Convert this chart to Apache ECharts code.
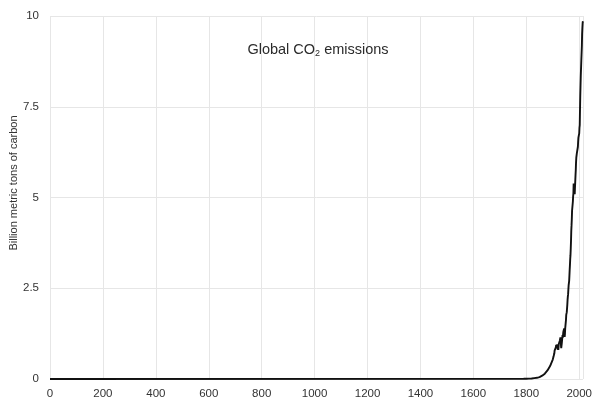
<!DOCTYPE html>
<html>
<head>
<meta charset="utf-8">
<script src="https://cdn.jsdelivr.net/npm/echarts@6/dist/echarts.min.js"></script>
<style>
  html, body { margin: 0; padding: 0; background: #fff; }
  #chart { width: 595px; height: 403px; }
</style>
</head>
<body>
<div id="chart"></div>
<script>
// global fossil-fuel carbon emissions, billion metric tons of carbon
const years = [
  0, 1751, 1760, 1770, 1780, 1790, 1800, 1810, 1820, 1830, 1840, 1850, 1860, 1870, 1880, 1890,
  1900, 1901, 1902, 1903, 1904, 1905, 1906, 1907, 1908, 1909, 1910, 1911, 1912, 1913, 1914,
  1915, 1916, 1917, 1918, 1919, 1920, 1921, 1922, 1923, 1924, 1925, 1926, 1927, 1928, 1929,
  1930, 1931, 1932, 1933, 1934, 1935, 1936, 1937, 1938, 1939, 1940, 1941, 1942, 1943, 1944,
  1945, 1946, 1947, 1948, 1949, 1950, 1951, 1952, 1953, 1954, 1955, 1956, 1957, 1958, 1959,
  1960, 1961, 1962, 1963, 1964, 1965, 1966, 1967, 1968, 1969, 1970, 1971, 1972, 1973, 1974,
  1975, 1976, 1977, 1978, 1979, 1980, 1981, 1982, 1983, 1984, 1985, 1986, 1987, 1988, 1989,
  1990, 1991, 1992, 1993, 1994, 1995, 1996, 1997, 1998, 1999, 2000, 2001, 2002, 2003, 2004,
  2005, 2006, 2007, 2008, 2009, 2010, 2011, 2012, 2013, 2014
];
const emissions = [
  0, 0.003, 0.003, 0.003, 0.004, 0.005, 0.008, 0.010, 0.014, 0.024, 0.033, 0.054, 0.091, 0.147, 0.236, 0.356,
  0.534, 0.552, 0.566, 0.617, 0.624, 0.663, 0.707, 0.784, 0.750, 0.785, 0.819, 0.836, 0.879, 0.943, 0.850,
  0.838, 0.901, 0.955, 0.936, 0.806, 0.932, 0.803, 0.845, 0.970, 0.963, 0.975, 0.983, 1.062, 1.065, 1.145,
  1.053, 0.940, 0.847, 0.893, 0.973, 1.027, 1.130, 1.209, 1.142, 1.192, 1.299, 1.334, 1.342, 1.391, 1.383,
  1.160, 1.238, 1.392, 1.469, 1.419, 1.630, 1.768, 1.796, 1.841, 1.865, 2.043, 2.178, 2.270, 2.330, 2.462,
  2.577, 2.594, 2.700, 2.848, 3.008, 3.145, 3.305, 3.411, 3.588, 3.800, 4.076, 4.231, 4.399, 4.635, 4.644,
  4.615, 4.883, 5.029, 5.105, 5.387, 5.332, 5.168, 5.113, 5.094, 5.280, 5.439, 5.607, 5.752, 5.965, 6.097,
  6.127, 6.217, 6.164, 6.162, 6.266, 6.398, 6.542, 6.651, 6.643, 6.610, 6.765, 6.927, 6.996, 7.416, 7.807,
  8.093, 8.370, 8.566, 8.783, 8.740, 9.167, 9.508, 9.672, 9.807, 9.855
];
const xTicks = [0, 200, 400, 600, 800, 1000, 1200, 1400, 1600, 1800, 2000];
const yTicks = [0, 2.5, 5, 7.5, 10];

const chart = echarts.init(document.getElementById('chart'), null, { renderer: 'canvas' });
const font = 'Liberation Sans, Arial, sans-serif';

const option = {
  animation: false,
  grid: { left: 50, right: 8, top: 16, bottom: 24 },
  title: {
    text: 'Global CO{sub|2} emissions',
    left: 313,
    top: 37,
    textAlign: 'center',
    textStyle: {
      fontFamily: font,
      fontSize: 14.5,
      fontWeight: 'normal',
      color: '#2b2b2b',
      rich: {
        sub: { fontSize: 9, verticalAlign: 'bottom', padding: [7, 0, 0, 0], color: '#2b2b2b', fontFamily: font }
      }
    }
  },
  xAxis: {
    type: 'value',
    min: xTicks[0],
    max: years[years.length - 1],
    interval: xTicks[1] - xTicks[0],
    axisLine: { show: false },
    axisTick: { show: false },
    splitLine: { lineStyle: { color: '#e6e6e6', width: 1 } },
    axisLabel: {
      showMaxLabel: false,
      margin: 9,
      fontFamily: font,
      fontSize: 11.5,
      color: '#333',
      formatter: v => String(v)
    }
  },
  yAxis: {
    type: 'value',
    min: yTicks[0],
    max: yTicks[yTicks.length - 1],
    interval: yTicks[1] - yTicks[0],
    axisLine: { show: false },
    axisTick: { show: false },
    splitLine: { lineStyle: { color: '#e6e6e6', width: 1 } },
    axisLabel: {
      margin: 11,
      fontFamily: font,
      fontSize: 11.5,
      color: '#333'
    }
  },
  graphic: [{
    type: 'text',
    x: 14,
    y: 183,
    rotation: Math.PI / 2,
    style: {
      text: 'Billion metric tons of carbon',
      fontFamily: font,
      fontSize: 11,
      fill: '#333',
      align: 'center',
      verticalAlign: 'middle'
    }
  }],
  series: [{
    type: 'line',
    showSymbol: false,
    lineStyle: { color: '#111', width: 1.9 },
    data: years.map((y, i) => [y, emissions[i]])
  }]
};

chart.setOption(option);
</script>
</body>
</html>
